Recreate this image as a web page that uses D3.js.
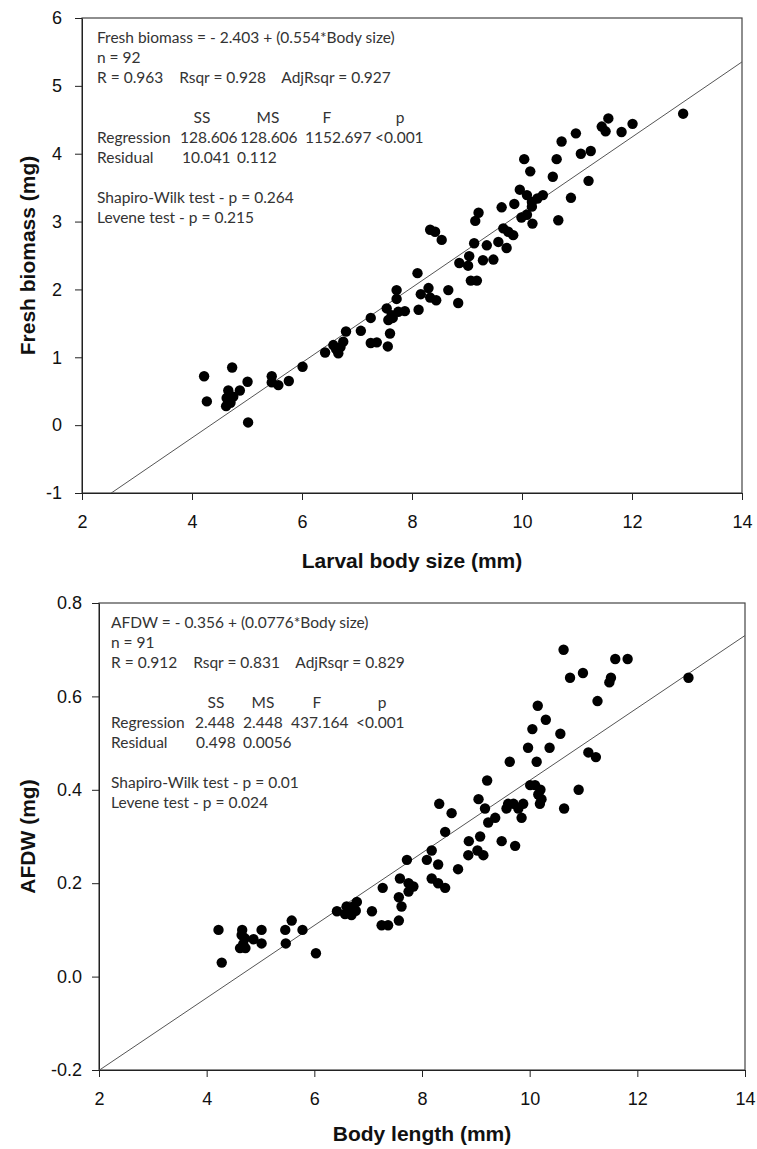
<!DOCTYPE html>
<html>
<head>
<meta charset="utf-8">
<script src="https://cdn.jsdelivr.net/npm/d3@7"></script>
<style>
  body { margin: 0; background: #fff; }
  .tick text { font-family: "Liberation Sans", Arial, sans-serif; font-size: 18px; fill: #111; }
  .axisTitle { font-family: "Liberation Sans", Arial, sans-serif; font-size: 21px; font-weight: bold; fill: #111; }
  .note { font-family: Lato, "Open Sans", sans-serif; font-size: 15.5px; fill: #333; white-space: pre; }
</style>
</head>
<body>
<div id="vis"></div>
<script>
// fresh biomass vs larval body size (n = 92)
var biomassX = [4.22, 4.27, 4.73, 4.66, 4.63, 4.62, 4.75, 4.87, 5.01, 5.02,
                5.45, 5.45, 5.57, 5.76, 6.01, 6.42, 6.57, 6.66, 6.75, 6.80,
                7.07, 7.25, 7.25, 7.36, 7.56, 7.60, 7.54, 7.57, 7.63, 7.75,
                7.87, 7.72, 8.12, 7.72, 8.10, 8.16, 8.30, 8.33, 8.44, 8.66,
                8.84, 8.33, 8.42, 8.54, 8.86, 9.04, 9.02, 9.07, 9.18, 9.13,
                9.36, 9.29, 9.48, 9.21, 9.15, 9.57, 9.72, 9.66, 9.75, 9.84,
                9.63, 9.86, 9.96, 10.09, 10.18, 10.28, 10.38, 10.18, 9.99, 10.09,
                10.19, 10.04, 10.15, 10.66, 10.89, 10.56, 10.63, 10.72, 10.98, 11.07,
                11.25, 11.21, 11.45, 11.52, 11.57, 11.81, 12.01, 12.93, 4.70, 6.62,
                6.70, 7.65];
var biomassY = [0.72, 0.35, 0.85, 0.51, 0.40, 0.28, 0.42, 0.51, 0.64, 0.04,
                0.72, 0.63, 0.59, 0.65, 0.86, 1.07, 1.18, 1.06, 1.23, 1.38,
                1.39, 1.58, 1.21, 1.22, 1.16, 1.35, 1.72, 1.55, 1.62, 1.67,
                1.68, 1.86, 1.70, 1.99, 2.24, 1.93, 2.02, 1.88, 1.84, 1.99,
                1.80, 2.88, 2.85, 2.73, 2.39, 2.49, 2.35, 2.13, 2.13, 2.68,
                2.65, 2.43, 2.44, 3.13, 3.01, 2.70, 2.61, 2.90, 2.85, 2.80,
                3.21, 3.26, 3.47, 3.39, 3.29, 3.34, 3.39, 3.22, 3.06, 3.10,
                2.97, 3.92, 3.74, 3.02, 3.35, 3.66, 3.92, 4.18, 4.30, 4.00,
                4.04, 3.60, 4.40, 4.33, 4.52, 4.32, 4.44, 4.59, 0.33, 1.12,
                1.15, 1.58];

// AFDW vs body length (n = 91)
var afdwX = [4.22, 4.28, 4.66, 4.65, 4.71, 4.87, 4.62, 4.72, 5.02, 5.02,
             5.46, 5.47, 5.58, 5.78, 6.03, 6.42, 6.60, 6.57, 6.69, 6.79,
             6.77, 7.07, 7.27, 7.25, 7.37, 7.57, 7.57, 7.62, 7.75, 7.84,
             7.59, 7.75, 7.72, 8.09, 8.30, 8.67, 8.18, 8.30, 8.43, 8.18,
             8.43, 8.87, 9.08, 9.03, 9.14, 8.86, 9.48, 9.73, 8.32, 8.55,
             9.05, 9.17, 9.57, 9.70, 9.79, 9.88, 9.85, 9.23, 9.36, 9.21,
             10.01, 10.10, 10.16, 10.22, 10.19, 10.64, 10.91, 9.63, 10.13, 9.97,
             10.37, 10.05, 10.57, 10.30, 10.15, 11.09, 11.23, 11.26, 10.75, 10.99,
             11.51, 11.48, 10.63, 11.59, 11.82, 12.95, 4.68, 6.65, 6.72, 9.60,
             10.20];
var afdwY = [0.100, 0.030, 0.100, 0.089, 0.082, 0.080, 0.061, 0.061, 0.100, 0.071,
             0.100, 0.071, 0.120, 0.100, 0.050, 0.140, 0.150, 0.134, 0.132, 0.160,
             0.141, 0.140, 0.190, 0.110, 0.110, 0.120, 0.170, 0.150, 0.182, 0.193,
             0.210, 0.200, 0.250, 0.250, 0.240, 0.230, 0.210, 0.200, 0.190, 0.270,
             0.310, 0.290, 0.300, 0.270, 0.260, 0.260, 0.290, 0.280, 0.370, 0.350,
             0.380, 0.360, 0.360, 0.370, 0.360, 0.370, 0.340, 0.330, 0.340, 0.420,
             0.410, 0.410, 0.390, 0.380, 0.370, 0.360, 0.400, 0.460, 0.460, 0.490,
             0.490, 0.530, 0.520, 0.550, 0.580, 0.480, 0.470, 0.590, 0.640, 0.650,
             0.640, 0.630, 0.700, 0.680, 0.680, 0.640, 0.070, 0.145, 0.150, 0.370,
             0.400];

var xTicks = [2, 4, 6, 8, 10, 12, 14];
var biomassTicks = [-1, 0, 1, 2, 3, 4, 5, 6];
var afdwTicks = [-0.2, 0.0, 0.2, 0.4, 0.6, 0.8];

var biomassNotes = ['Fresh biomass = - 2.403 + (0.554*Body size)',
                    'n = 92',
                    'R = 0.963    Rsqr = 0.928    AdjRsqr = 0.927'];
var biomassTable = [['', 'SS', 'MS', 'F', 'p'],
                    ['Regression', '128.606', '128.606', '1152.697', '<0.001'],
                    ['Residual', '10.041', '0.112', '', '']];
var biomassTests = ['Shapiro-Wilk test - p = 0.264', 'Levene test - p = 0.215'];

var afdwNotes = ['AFDW = - 0.356 + (0.0776*Body size)',
                 'n = 91',
                 'R = 0.912    Rsqr = 0.831    AdjRsqr = 0.829'];
var afdwTable = [['', 'SS', 'MS', 'F', 'p'],
                 ['Regression', '2.448', '2.448', '437.164', '<0.001'],
                 ['Residual', '0.498', '0.0056', '', '']];
var afdwTests = ['Shapiro-Wilk test - p = 0.01', 'Levene test - p = 0.024'];

var svg = d3.select('#vis')
  .append('svg')
  .attr('width', 757)
  .attr('height', 1149);

function fmt(p) {
  var f = d3.format(p);
  return function(d) { return f(d).replace('\u2212', '-'); };
}

function panel(cfg) {
  var w = cfg.right - cfg.left;
  var h = cfg.bottom - cfg.top;

  var xScale = d3.scaleLinear().domain([2, 14]).range([0, w]);
  var yScale = d3.scaleLinear().domain(d3.extent(cfg.yTicks)).range([h, 0]);

  var g = svg.append('g')
    .attr('transform', 'translate(' + cfg.left + ',' + cfg.top + ')');

  g.append('clipPath').attr('id', cfg.id + 'clip')
    .append('rect').attr('width', w).attr('height', h);

  // frame
  g.append('rect')
    .attr('width', w).attr('height', h)
    .attr('fill', 'none').attr('stroke', '#444').attr('stroke-width', 1.2);

  g.append('g')
    .attr('transform', 'translate(0,' + h + ')')
    .call(d3.axisBottom(xScale).tickValues(xTicks).tickSize(7).tickPadding(15).tickSizeOuter(0))
    .call(function(a) { a.select('.domain').attr('stroke', '#222'); a.selectAll('line').attr('stroke', '#222'); });

  g.append('g')
    .call(d3.axisLeft(yScale).tickValues(cfg.yTicks).tickFormat(cfg.yFormat)
      .tickSize(7).tickPadding(cfg.yPad).tickSizeOuter(0))
    .call(function(a) { a.select('.domain').attr('stroke', '#222'); a.selectAll('line').attr('stroke', '#222'); });

  // regression line
  var xs = [2, 14];
  g.append('path')
    .attr('clip-path', 'url(#' + cfg.id + 'clip)')
    .attr('d', d3.line()
      .x(function(d) { return xScale(d); })
      .y(function(d) { return yScale(cfg.a + cfg.b * d); })(xs))
    .attr('fill', 'none').attr('stroke', '#555').attr('stroke-width', 1);

  g.selectAll('.dot')
    .data(cfg.xs)
    .enter().append('circle')
    .attr('class', 'dot')
    .attr('cx', function(d) { return xScale(d); })
    .attr('cy', function(d, i) { return yScale(cfg.ys[i]); })
    .attr('r', 5.2)
    .attr('fill', '#000');

  // annotation
  var lh = 20;
  var tx = cfg.noteX;
  cfg.notes.forEach(function(t, i) {
    g.append('text').attr('class', 'note').attr('x', tx).attr('y', 25 + i * lh).text(t);
  });
  cfg.table.forEach(function(row, r) {
    row.forEach(function(cell, c) {
      if (!cell) return;
      var head = r === 0;
      g.append('text').attr('class', 'note')
        .attr('x', c === 0 ? tx : (head ? cfg.headX[c - 1] : cfg.colX[r - 1][c - 1]))
        .attr('y', 25 + (4 + r) * lh)
        .attr('text-anchor', head ? 'middle' : 'start')
        .text(cell);
    });
  });
  cfg.tests.forEach(function(t, i) {
    g.append('text').attr('class', 'note').attr('x', tx).attr('y', 25 + (8 + i) * lh).text(t);
  });

  // axis titles
  g.append('text')
    .attr('class', 'axisTitle')
    .attr('x', w / 2)
    .attr('y', h + cfg.xTitleY)
    .attr('text-anchor', 'middle')
    .text(cfg.xTitle);

  g.append('text')
    .attr('class', 'axisTitle')
    .attr('transform', 'translate(' + (28 - cfg.left) + ',' + (h / 2) + ') rotate(-90)')
    .attr('dy', '0.35em')
    .attr('text-anchor', 'middle')
    .text(cfg.yTitle);
}

panel({
  id: 'top', left: 82, right: 742, top: 18, bottom: 493,
  xs: biomassX, ys: biomassY, a: -2.403, b: 0.554,
  yTicks: biomassTicks, yFormat: fmt('d'), yPad: 13,
  notes: biomassNotes, table: biomassTable, tests: biomassTests,
  noteX: 15, headX: [120, 186, 245, 318],
  colX: [[98, 158, 223, 293], [100, 155]],
  xTitle: 'Larval body size (mm)', yTitle: 'Fresh biomass (mg)', xTitleY: 75
});

panel({
  id: 'bot', left: 99, right: 745, top: 603, bottom: 1070,
  xs: afdwX, ys: afdwY, a: -0.356, b: 0.0776,
  yTicks: afdwTicks, yFormat: fmt('.1f'), yPad: 10,
  notes: afdwNotes, table: afdwTable, tests: afdwTests,
  noteX: 12, headX: [117, 164, 218, 283],
  colX: [[96, 144, 192, 257], [97, 144]],
  xTitle: 'Body length (mm)', yTitle: 'AFDW (mg)', xTitleY: 71
});
</script>
</body>
</html>
